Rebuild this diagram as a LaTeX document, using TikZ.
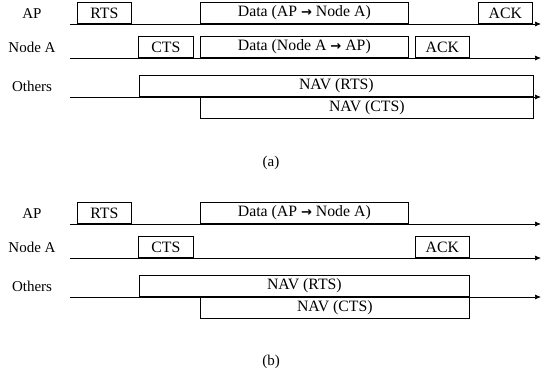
\documentclass[tikz,border=0pt]{standalone}
\usepackage{fontspec}
\setmainfont{Liberation Serif}
\newfontfamily\arrowfont{DejaVu Sans}
\newcommand{\toarrow}{{\arrowfont\bfseries\fontsize{13}{15}\selectfont →}}
\usetikzlibrary{arrows.meta}

\tikzset{
  frame/.style={draw, line width=0.7pt, inner sep=0pt, minimum height=21.5pt, anchor=south west,
    font=\fontsize{15.8}{18}\selectfont},
  timeline/.style={line width=0.7pt, -{Latex[length=6pt,width=5pt]}},
  station/.style={anchor=base},
}

\begin{document}
\begin{tikzpicture}[x=1pt,y=-1pt,font=\fontsize{15}{18}\selectfont]
  \useasboundingbox (0,0) rectangle (542,382);
  % stations and their time axes, both panels
  \foreach \off/\p in {0/A,200/B} {
    \node[station] (ap\p)     at (32,18.5+\off) {AP};
    \node[station] (node\p)   at (32,52.5+\off) {Node A};
    \node[station] (others\p) at (32,91.5+\off) {Others};
    \coordinate (apL\p) at (70,24+\off);
    \coordinate (apR\p) at (541,24+\off);
    \coordinate (nodeL\p) at (70,58+\off);
    \coordinate (nodeR\p) at (541,58+\off);
    \coordinate (othersL\p) at (70,97+\off);
    \coordinate (othersR\p) at (541,97+\off);
    \draw[timeline] (apL\p) -- (apR\p);
    \draw[timeline] (nodeL\p) -- (nodeR\p);
    \draw[timeline] (othersL\p) -- (othersR\p);
  }

  % (a) bidirectional data
  \node[frame, minimum width=54pt]  (rtsA)     at (77,24)   {RTS};
  \node[frame, minimum width=208pt] (dataApA)  at (200,24)  {Data (AP \toarrow{} Node A)};
  \node[frame, minimum width=54pt]  (ackApA)   at (478,24)  {ACK};
  \node[frame, minimum width=55pt]  (ctsA)     at (138,58)  {CTS};
  \node[frame, minimum width=208pt] (dataNdA)  at (200,58)  {Data (Node A \toarrow{} AP)};
  \node[frame, minimum width=54pt]  (ackNdA)   at (415,58)  {ACK};
  \node[frame, minimum width=394pt] (navRtsA)  at (139,97)  {NAV (RTS)};
  \node[frame, minimum width=333pt] (navCtsA)  at (200,118.5) {NAV (CTS)};
  \node (capA) at (271,163) {(a)};

  % (b) one-way data
  \node[frame, minimum width=54pt]  (rtsB)     at (77,224)  {RTS};
  \node[frame, minimum width=208pt] (dataApB)  at (200,224) {Data (AP \toarrow{} Node A)};
  \node[frame, minimum width=55pt]  (ctsB)     at (138,258) {CTS};
  \node[frame, minimum width=54pt]  (ackNdB)   at (415,258) {ACK};
  \node[frame, minimum width=330pt] (navRtsB)  at (139,297) {NAV (RTS)};
  \node[frame, minimum width=269pt] (navCtsB)  at (200,318.5) {NAV (CTS)};
  \node (capB) at (271,362) {(b)};
\end{tikzpicture}
\end{document}
